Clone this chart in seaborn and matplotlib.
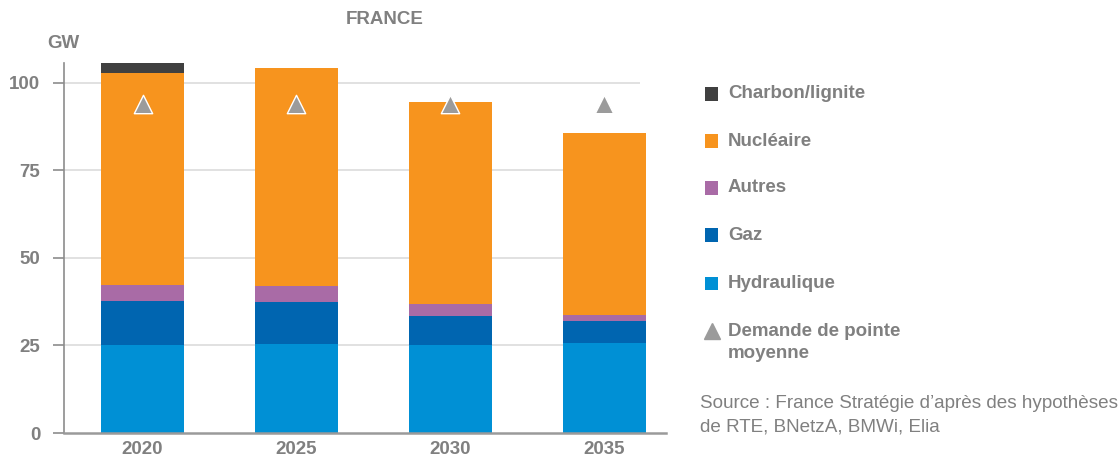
import numpy as np
import pandas as pd
import matplotlib
matplotlib.use("Agg")
import matplotlib.pyplot as plt
import seaborn as sns
from matplotlib.patches import Rectangle
from matplotlib.lines import Line2D

# --- data (GW) ---
years = ["2020", "2025", "2030", "2035"]
hydraulique = [25.1, 25.4, 25.1, 25.7]
gaz = [12.6, 12.0, 8.3, 6.3]
autres = [4.6, 4.6, 3.5, 1.7]
nucleaire = [60.6, 62.3, 57.7, 52.0]
charbon = [2.8, 0.0, 0.0, 0.0]
demande = [93.9, 93.9, 93.9, 93.9]

layers = [
    ("Hydraulique", hydraulique, "#0090d5"),
    ("Gaz", gaz, "#0065b0"),
    ("Autres", autres, "#a96ba6"),
    ("Nucléaire", nucleaire, "#f7941e"),
    ("Charbon/lignite", charbon, "#404040"),
]

grey = "#808080"
fs = 13.5

sns.set_style("white")
plt.rcParams["font.family"] = ["Liberation Sans", "DejaVu Sans"]

fig = plt.figure(figsize=(11.18, 4.59), dpi=100)
ax = fig.add_axes([64 / 1118, 26 / 459, (666 - 64) / 1118, (433 - 63) / 459])

# stacked bars
bottom = np.zeros(len(years))
for name, vals, col in layers:
    df = pd.DataFrame({"annee": years, "gw": vals})
    sns.barplot(data=df, x="annee", y="gw", color=col, saturation=1,
                width=0.54, bottom=bottom, errorbar=None, ax=ax, zorder=2,
                linewidth=0, edgecolor=col)
    bottom = bottom + np.array(vals)

# peak demand
sns.scatterplot(x=years, y=demande, marker="^", s=175, color="#9b9b9b",
                edgecolor="white", linewidth=1, ax=ax, zorder=5)

ax.set_xlim(-0.51, 3.40)
ax.set_ylim(0, 105.7)
ax.set_yticks([0, 25, 50, 75, 100])
ax.hlines([25, 50, 75, 100], -0.51, 3.23, color="#dcdcdc", lw=1.2, zorder=1)

for s in ["top", "right"]:
    ax.spines[s].set_visible(False)
ax.spines["left"].set_color("#8c8c8c")
ax.spines["left"].set_linewidth(1.2)
ax.spines["bottom"].set_color("#9a9a9a")
ax.spines["bottom"].set_linewidth(1.8)

ax.tick_params(axis="y", left=True, length=8, width=1.2, color="#8c8c8c",
               pad=9, labelsize=fs, labelcolor=grey)
ax.tick_params(axis="x", bottom=False, pad=2, labelsize=fs, labelcolor=grey)
for lab in ax.get_xticklabels() + ax.get_yticklabels():
    lab.set_fontweight("bold")
ax.set_xlabel("")
ax.set_ylabel("")

# titles
fig.text(385 / 1118, 1 - 20 / 459, "FRANCE", ha="center", va="center",
         fontsize=fs, fontweight="bold", color=grey)
fig.text(63 / 1118, 1 - 43 / 459, "GW", ha="center", va="center",
         fontsize=fs, fontweight="bold", color=grey)

# legend, drawn by hand
legend_rows = [
    ("Charbon/lignite", "#404040", 94),
    ("Nucléaire", "#f7941e", 141),
    ("Autres", "#a96ba6", 188),
    ("Gaz", "#0065b0", 235),
    ("Hydraulique", "#0090d5", 283),
]
for label, col, yp in legend_rows:
    fig.add_artist(Rectangle((705 / 1118, 1 - (yp + 6.5) / 459), 13 / 1118, 13 / 459,
                             transform=fig.transFigure, color=col, lw=0))
    fig.text(728 / 1118, 1 - yp / 459, label, ha="left", va="center",
             fontsize=fs, fontweight="bold", color=grey)

fig.add_artist(Line2D([711.5 / 1118], [1 - 331 / 459], marker="^", ms=12,
                      color="#9b9b9b", ls="none", transform=fig.transFigure))
fig.text(728 / 1118, 1 - 331 / 459, "Demande de pointe", ha="left", va="center",
         fontsize=fs, fontweight="bold", color=grey)
fig.text(728 / 1118, 1 - 354 / 459, "moyenne", ha="left", va="center",
         fontsize=fs, fontweight="bold", color=grey)

fig.text(700 / 1118, 1 - 403 / 459, "Source : France Stratégie d’après des hypothèses",
         ha="left", va="center", fontsize=13.6, color=grey)
fig.text(700 / 1118, 1 - 427 / 459, "de RTE, BNetzA, BMWi, Elia",
         ha="left", va="center", fontsize=13.6, color=grey)

fig.savefig("out.png", dpi=100)
